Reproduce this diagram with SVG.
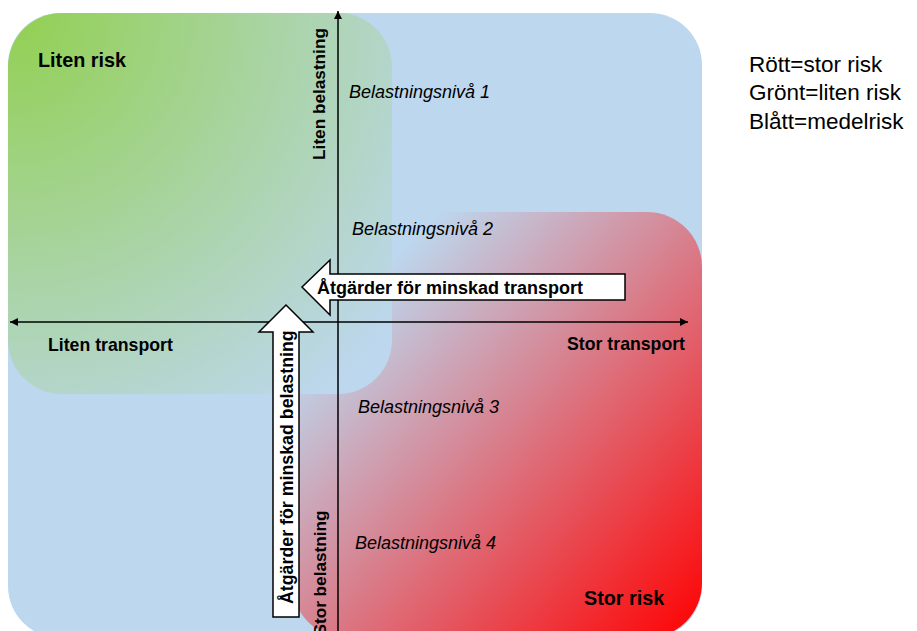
<svg xmlns="http://www.w3.org/2000/svg" width="917" height="631" viewBox="0 0 917 631">
<defs>
<radialGradient id="gGreen" cx="0" cy="0" r="1.3" fx="0" fy="0">
<stop offset="0" stop-color="#92d050"/>
<stop offset="1" stop-color="#bdd7ee"/>
</radialGradient>
<linearGradient id="gRed" x1="0" y1="0" x2="1" y2="1">
<stop offset="0.18" stop-color="#bdd7ee"/>
<stop offset="1" stop-color="#ff0000"/>
</linearGradient>
<marker id="ah" viewBox="0 0 10 10" refX="10" refY="5" markerWidth="8" markerHeight="8" markerUnits="userSpaceOnUse" orient="auto-start-reverse">
<path d="M0,0 L10,5 L0,10 z" fill="#000"/>
</marker>
<style>
.b{font-family:"Liberation Sans",Arial,sans-serif;font-weight:bold;fill:#000}
.i{font-family:"Liberation Sans",Arial,sans-serif;font-style:italic;font-size:18px;fill:#000}
.r{font-family:"Liberation Sans",Arial,sans-serif;font-size:22.5px;fill:#000}
.ax{stroke:#000;stroke-width:1.5;fill:none}
.blk{fill:#fff;stroke:#000;stroke-width:1.5}
</style>
</defs>
<g id="background">
<rect x="8" y="13" width="694" height="625" rx="52" fill="#bdd7ee"/>
</g>
<g id="redZone">
<rect x="292" y="212" width="410" height="426" rx="55" fill="url(#gRed)"/>
</g>
<g id="greenZone">
<rect x="8" y="13" width="384" height="381" rx="54" fill="url(#gGreen)"/>
</g>
<g id="connectors">
<line class="ax" x1="10" y1="322" x2="688" y2="322" marker-start="url(#ah)" marker-end="url(#ah)"/>
<line class="ax" x1="338" y1="640" x2="338" y2="11" marker-end="url(#ah)"/>
</g>
<g id="arrowTransport">
<path class="blk" d="M302,287 L330,260 L330,274 L625,274 L625,300 L330,300 L330,315 z"/>
<text class="b" x="317" y="294" font-size="18">Åtgärder för minskad transport</text>
</g>
<g id="arrowBelastning">
<path class="blk" d="M286,305 L313,332 L299,332 L299,617 L273,617 L273,332 L259,332 z"/>
<text class="b" font-size="17.8" transform="translate(293,604) rotate(-90)">Åtgärder för minskad belastning</text>
</g>
<g id="labels">
<text class="b" x="38" y="67" font-size="19.8">Liten risk</text>
<text class="b" x="584" y="605" font-size="19.8">Stor risk</text>
<text class="b" x="48" y="351" font-size="17.7">Liten transport</text>
<text class="b" x="685" y="350" font-size="17.7" text-anchor="end">Stor transport</text>
<text class="b" font-size="17.2" transform="translate(325,94) rotate(-90)" text-anchor="middle">Liten belastning</text>
<text class="b" font-size="17.2" transform="translate(326,573) rotate(-90)" text-anchor="middle">Stor belastning</text>
<text class="i" x="349" y="98">Belastningsnivå 1</text>
<text class="i" x="352" y="235">Belastningsnivå 2</text>
<text class="i" x="358" y="413">Belastningsnivå 3</text>
<text class="i" x="355" y="549">Belastningsnivå 4</text>
</g>
<g id="legend">
<text class="r" x="749" y="72">Rött=stor risk</text>
<text class="r" x="749" y="100">Grönt=liten risk</text>
<text class="r" x="749" y="129">Blått=medelrisk</text>
</g>
</svg>
